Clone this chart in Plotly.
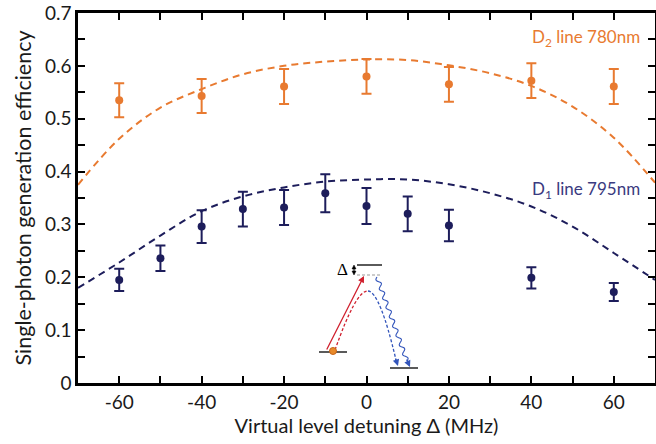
import math
import plotly.graph_objects as go

# ---------------- data ----------------
d2_x = [-60, -40, -20, 0, 20, 40, 60]
d2_y = [0.535, 0.543, 0.561, 0.580, 0.565, 0.572, 0.561]
d2_err = [0.032, 0.032, 0.033, 0.033, 0.033, 0.033, 0.033]

d1_x = [-60, -50, -40, -30, -20, -10, 0, 10, 20, 40, 60]
d1_y = [0.195, 0.236, 0.296, 0.329, 0.332, 0.359, 0.335, 0.320, 0.298, 0.199, 0.172]
d1_err = [0.021, 0.024, 0.031, 0.033, 0.033, 0.036, 0.034, 0.033, 0.030, 0.020, 0.017]

fit_x = [-70, -60, -50, -40, -30, -20, -10, 0, 10, 20, 30, 40, 50, 60, 70]
d2_fit = [0.375, 0.462, 0.521, 0.556, 0.584, 0.600, 0.608, 0.612, 0.611, 0.601, 0.586, 0.562, 0.523, 0.464, 0.379]
d1_fit = [0.180, 0.228, 0.279, 0.325, 0.353, 0.370, 0.381, 0.385, 0.385, 0.376, 0.359, 0.334, 0.296, 0.246, 0.195]

x_ticks = [-60, -40, -20, 0, 20, 40, 60]
y_ticks = [0, 0.1, 0.2, 0.3, 0.4, 0.5, 0.6, 0.7]

ORANGE = "#E87A30"
NAVY = "#1D1D5B"
NAVY_LBL = "#3A3A80"
RED = "#D0202E"
BLUE = "#3355BB"
FONT = "Lato"

W, H = 656, 444
ML, MR, MT, MB = 78, 1, 13, 61
X0, X1 = -70, 70
Y0, Y1 = 0, 0.7
PW = W - ML - MR
PH = H - MT - MB


def px2x(px):
    return X0 + (px - ML) / PW * (X1 - X0)


def py2y(py):
    return Y0 + (MT + PH - py) / PH * (Y1 - Y0)


def P(px, py):
    return f"{px2x(px):.4f},{py2y(py):.4f}"


fig = go.Figure()

fig.add_trace(go.Scatter(x=fit_x, y=d2_fit, mode="lines",
                         line=dict(color=ORANGE, width=2, dash="7px,5px", shape="spline", smoothing=1.0),
                         hoverinfo="skip", showlegend=False))
fig.add_trace(go.Scatter(x=fit_x, y=d1_fit, mode="lines",
                         line=dict(color=NAVY, width=2, dash="7px,5px", shape="spline", smoothing=1.0),
                         hoverinfo="skip", showlegend=False))

fig.add_trace(go.Scatter(x=d2_x, y=d2_y, mode="markers",
                         marker=dict(color=ORANGE, size=8),
                         error_y=dict(type="data", array=d2_err, color=ORANGE, thickness=2, width=5),
                         showlegend=False))
fig.add_trace(go.Scatter(x=d1_x, y=d1_y, mode="markers",
                         marker=dict(color=NAVY, size=8),
                         error_y=dict(type="data", array=d1_err, color=NAVY, thickness=2, width=5),
                         showlegend=False))

shapes = []
annotations = []

# ---------- inset level diagram (decoration) ----------
def hline(px0, px1, py, color="black", width=1.3, dash="solid"):
    shapes.append(dict(type="line", xref="x", yref="y", x0=px2x(px0), x1=px2x(px1), y0=py2y(py), y1=py2y(py),
                       line=dict(color=color, width=width, dash=dash)))

hline(319, 347, 352)
hline(357, 382, 265)
hline(357, 382, 275, color="#999999", width=1, dash="3px,2px")
hline(390, 418, 368)

shapes.append(dict(type="path", xref="x", yref="y",
                   path=f"M {P(335, 350)} Q {P(356, 290)} {P(368, 291)}",
                   line=dict(color=RED, width=1.3, dash="3px,2px")))
shapes.append(dict(type="path", xref="x", yref="y",
                   path=f"M {P(368, 291)} Q {P(380, 292)} {P(396, 360)}",
                   line=dict(color=BLUE, width=1.3, dash="3px,2px")))

# wavy blue line
sx, sy, ex, ey = 377, 277, 407, 361
L = math.hypot(ex - sx, ey - sy)
ux, uy = (ex - sx) / L, (ey - sy) / L
nx, ny = -uy, ux
pts = []
n = 90
for i in range(n + 1):
    t = i / n
    off = 2.0 * math.sin(t * 2 * math.pi * 9)
    pts.append(P(sx + ux * L * t + nx * off, sy + uy * L * t + ny * off))
shapes.append(dict(type="path", xref="x", yref="y", path="M " + " L ".join(pts),
                   line=dict(color=BLUE, width=1.1)))

# Delta double arrow
shapes.append(dict(type="line", xref="x", yref="y", x0=px2x(354), x1=px2x(354), y0=py2y(267), y1=py2y(273),
                   line=dict(color="black", width=1)))
shapes.append(dict(type="path", xref="x", yref="y", path=f"M {P(352, 269)} L {P(356, 269)} L {P(354, 265)} Z",
                   fillcolor="black", line=dict(color="black", width=0.5)))
shapes.append(dict(type="path", xref="x", yref="y", path=f"M {P(352, 271)} L {P(356, 271)} L {P(354, 275)} Z",
                   fillcolor="black", line=dict(color="black", width=0.5)))

# orange atom dot
shapes.append(dict(type="circle", xref="x", yref="y", x0=px2x(329.5), x1=px2x(336.5), y0=py2y(347.5), y1=py2y(354.5),
                   fillcolor="#E88A2A", line=dict(color="#C8661A", width=1)))

def arrow(tx, ty, hx, hy, color, width=1.3, head=2, size=1.0):
    annotations.append(dict(x=px2x(hx), y=py2y(hy), ax=px2x(tx), ay=py2y(ty), xref="x", yref="y",
                            axref="x", ayref="y", text="", showarrow=True, arrowhead=head, arrowsize=size,
                            arrowwidth=width, arrowcolor=color, standoff=0, startstandoff=0))

arrow(326, 351, 364, 276, RED)
arrow(395, 357, 398, 366, BLUE)
arrow(406, 358, 410, 367, BLUE)

annotations.append(dict(x=px2x(342), y=py2y(269), xref="x", yref="y", text="Δ", showarrow=False,
                        font=dict(family="Liberation Serif", size=17, color="black")))

# series labels
annotations.append(dict(x=px2x(586), y=py2y(38), xref="x", yref="y", text="D<sub>2</sub> line 780nm", showarrow=False,
                        font=dict(family=FONT, size=17, color=ORANGE)))
annotations.append(dict(x=px2x(586), y=py2y(190), xref="x", yref="y", text="D<sub>1</sub> line 795nm", showarrow=False,
                        font=dict(family=FONT, size=17, color=NAVY_LBL)))

fig.update_layout(
    width=W, height=H,
    margin=dict(l=ML, r=MR, t=MT, b=MB),
    plot_bgcolor="white", paper_bgcolor="white",
    font=dict(family=FONT, size=16, color="#1a1a1a"),
    shapes=shapes, annotations=annotations,
    showlegend=False,
)
fig.update_xaxes(range=[X0, X1], tickvals=x_ticks, ticktext=[str(v) for v in x_ticks],
                 ticks="inside", ticklen=7, tickwidth=2, tickcolor="black",
                 minor=dict(dtick=10, tick0=0, ticks="inside", ticklen=7, tickwidth=2, tickcolor="black"),
                 showline=True, linecolor="black", linewidth=2.5, mirror="ticks", showgrid=False, zeroline=False,
                 automargin=False,
                 title=dict(text="Virtual level detuning Δ (MHz)", standoff=2, font=dict(size=20)),
                 tickfont=dict(size=19))
fig.update_yaxes(range=[Y0, Y1], tickvals=y_ticks, ticktext=["0"] + [f"{v:.1f}" for v in y_ticks[1:]],
                 ticks="inside", ticklen=7, tickwidth=2, tickcolor="black",
                 minor=dict(dtick=0.05, tick0=0, ticks="inside", ticklen=7, tickwidth=2, tickcolor="black"),
                 showline=True, linecolor="black", linewidth=2.5, mirror="ticks", showgrid=False, zeroline=False,
                 automargin=False,
                 title=dict(text="Single-photon generation efficiency", standoff=8, font=dict(size=21.5)),
                 tickfont=dict(size=19))

fig.write_html("out.html", config={"displayModeBar": False},
               post_script="document.body.style.margin='0';document.body.style.padding='0';")
